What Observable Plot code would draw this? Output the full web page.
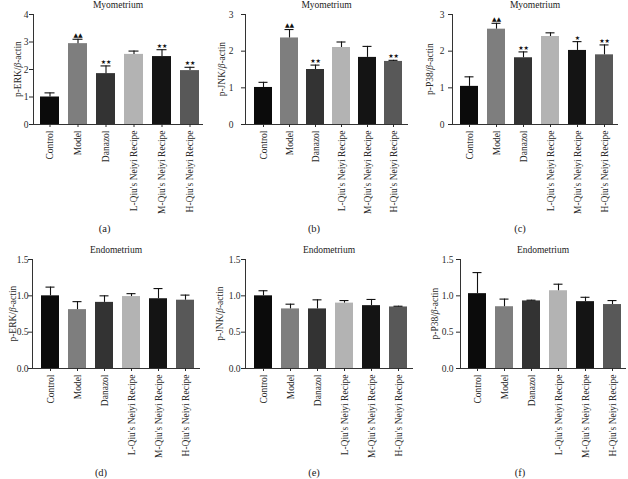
<!DOCTYPE html>
<html>
<head>
<meta charset="utf-8">
<script src="https://cdn.jsdelivr.net/npm/d3@7"></script>
<script src="https://cdn.jsdelivr.net/npm/@observablehq/plot@0.6"></script>
<style>
  html, body { margin: 0; padding: 0; background: #fff; }
  #root { position: relative; width: 628px; height: 479px; overflow: hidden; background: #fff;
          font-family: "Liberation Serif", "DejaVu Serif", serif; color: #222; }
  .panel { position: absolute; }
  .title { position: absolute; font-size: 9.5px; text-align: center; white-space: nowrap; line-height: 10px; }
  .caption { position: absolute; font-size: 10.5px; text-align: center; white-space: nowrap; line-height: 12px; }
</style>
</head>
<body>
<div id="root"></div>
<script>
// ---- data ----
const categories = ["Control", "Model", "Danazol", "L-Qiu's Neiyi Recipe", "M-Qiu's Neiyi Recipe", "H-Qiu's Neiyi Recipe"];
const barColors = ["#0b0b0b", "#7e7e7e", "#333333", "#b3b3b3", "#141414", "#585858"];

const myoErkMean = [1.00, 2.94, 1.85, 2.55, 2.47, 1.96];
const myoErkSem  = [0.15, 0.16, 0.28, 0.12, 0.25, 0.12];
const myoErkSig  = ["", "▲▲", "★★", "", "★★", "★★"];

const myoJnkMean = [1.01, 2.36, 1.50, 2.10, 1.83, 1.72];
const myoJnkSem  = [0.14, 0.23, 0.12, 0.15, 0.30, 0.03];
const myoJnkSig  = ["", "▲▲", "★★", "", "", "★★"];

const myoP38Mean = [1.04, 2.60, 1.82, 2.40, 2.02, 1.90];
const myoP38Sem  = [0.26, 0.16, 0.16, 0.10, 0.24, 0.27];
const myoP38Sig  = ["", "▲▲", "★★", "", "★", "★★"];

const endoErkMean = [1.00, 0.81, 0.91, 0.99, 0.96, 0.94];
const endoErkSem  = [0.12, 0.11, 0.09, 0.04, 0.14, 0.07];

const endoJnkMean = [1.00, 0.82, 0.82, 0.90, 0.865, 0.847];
const endoJnkSem  = [0.07, 0.065, 0.125, 0.035, 0.085, 0.01];

const endoP38Mean = [1.03, 0.85, 0.93, 1.07, 0.92, 0.88];
const endoP38Sem  = [0.29, 0.105, 0.01, 0.09, 0.06, 0.055];
const noSig = ["", "", "", "", "", ""];

const myoTicks = { erk: [0, 1, 2, 3, 4], jnk: [0, 1, 2, 3], p38: [0, 1, 2, 3] };
const endoTicks = [0, 0.5, 1.0, 1.5];

// ---- layout (page pixels) ----
const panels = [
  {id: "a", title: "Myometrium", label: "p-ERK/β-actin", mean: myoErkMean, sem: myoErkSem, sig: myoErkSig,
   ticks: myoTicks.erk, fmt: d3.format("d"), left: 0, top: 0, width: 205, marginLeft: 33, tickPadding: 1, labelOffset: 19.5, capX: 104.7},
  {id: "b", title: "Myometrium", label: "p-JNK/β-actin", mean: myoJnkMean, sem: myoJnkSem, sig: myoJnkSig,
   ticks: myoTicks.jnk, fmt: d3.format("d"), left: 212, top: 0, width: 198, marginLeft: 33, tickPadding: 8, labelOffset: 27.5, capX: 314},
  {id: "c", title: "Myometrium", label: "p-P38/β-actin", mean: myoP38Mean, sem: myoP38Sem, sig: myoP38Sig,
   ticks: myoTicks.p38, fmt: d3.format("d"), left: 419, top: 0, width: 201, marginLeft: 33, tickPadding: 4, labelOffset: 26.5, capX: 520},
  {id: "d", title: "Endometrium", label: "p-ERK/β-actin", mean: endoErkMean, sem: endoErkSem, sig: noSig,
   ticks: endoTicks, fmt: d3.format(".1f"), left: 0, top: 245, width: 202, marginLeft: 32, tickPadding: 0, labelOffset: 23.5, capX: 101},
  {id: "e", title: "Endometrium", label: "p-JNK/β-actin", mean: endoJnkMean, sem: endoJnkSem, sig: noSig,
   ticks: endoTicks, fmt: d3.format(".1f"), left: 212, top: 245, width: 203, marginLeft: 33, tickPadding: 1, labelOffset: 29.5, capX: 314},
  {id: "f", title: "Endometrium", label: "p-P38/β-actin", mean: endoP38Mean, sem: endoP38Sem, sig: noSig,
   ticks: endoTicks, fmt: d3.format(".1f"), left: 427, top: 245, width: 201, marginLeft: 33, tickPadding: 3, labelOffset: 29.5, capX: 520}
];

const root = document.getElementById("root");
const mTop = 14, mBottom = 92, mRight = 2;

for (const p of panels) {
  const rows = categories.map((c, i) => ({cat: c, mean: p.mean[i], top: p.mean[i] + p.sem[i], sig: p.sig[i]}));
  const plotH = p.top === 0 ? 110 : 109;
  const height = mTop + plotH + mBottom;
  const chart = Plot.plot({
    width: p.width,
    height,
    marginLeft: p.marginLeft,
    marginRight: mRight,
    marginTop: mTop,
    marginBottom: mBottom,
    style: {fontFamily: "'Liberation Serif', 'DejaVu Serif', serif", fontSize: "9.5px", background: "transparent", color: "#2a2a2a", overflow: "visible"},
    x: {domain: categories, paddingInner: 0.32, paddingOuter: 0.18, align: 0.6, label: null},
    y: {domain: [0, p.ticks[p.ticks.length - 1]]},
    color: {domain: categories, range: barColors},
    marks: [
      Plot.barY(rows, {x: "cat", y: "mean", fill: "cat"}),
      Plot.ruleX(rows, {x: "cat", y1: "mean", y2: "top", stroke: "#111", strokeWidth: 1.1}),
      Plot.tickY(rows, {x: "cat", y: "top", stroke: "#111", strokeWidth: 1.1, insetLeft: 4.5, insetRight: 4.5}),
      Plot.text(rows, {x: "cat", y: "top", text: "sig", dy: -4, fontSize: 6, fontFamily: "DejaVu Sans", fill: "#111"}),
      Plot.ruleY([0], {stroke: "#333", strokeWidth: 1}),
      Plot.frame({anchor: "left", stroke: "#333", strokeWidth: 1}),
      Plot.axisY({ticks: p.ticks, tickFormat: p.fmt, tickSize: 4, tickPadding: p.tickPadding,
                  label: p.label, labelAnchor: "center", labelArrow: "none", labelOffset: p.labelOffset}),
      Plot.axisX({tickSize: 3, tickRotate: -90, tickPadding: 3, label: null})
    ]
  });
  // italic beta in the y label
  let labelText = null;
  chart.querySelectorAll("text").forEach(t => {
    if (t.textContent === p.label) {
      labelText = t;
      t.innerHTML = p.label.replace("β", '<tspan font-style="italic">β</tspan>');
    }
  });
  const wrap = document.createElement("div");
  wrap.className = "panel";
  wrap.style.left = p.left + "px";
  wrap.style.top = p.top + "px";
  wrap.appendChild(chart);
  root.appendChild(wrap);

  // keep the rotated y label centred on the plot frame
  if (labelText) {
    const svgBox = chart.getBoundingClientRect();
    const b = labelText.getBoundingClientRect();
    const cy = b.top + b.height / 2 - svgBox.top;
    const want = mTop + plotH / 2;
    const g = labelText.parentNode;
    const prev = g.getAttribute("transform") || "";
    g.setAttribute("transform", `translate(0,${(want - cy).toFixed(2)}) ${prev}`);
  }

  // title over the frame
  const frameL = p.left + p.marginLeft, frameR = p.left + p.width - mRight;
  const title = document.createElement("div");
  title.className = "title";
  title.textContent = p.title;
  title.style.left = frameL + "px";
  title.style.width = (frameR - frameL) + "px";
  title.style.top = p.top + "px";
  root.appendChild(title);

  const cap = document.createElement("div");
  cap.className = "caption";
  cap.textContent = "(" + p.id + ")";
  cap.style.left = (p.capX - 20) + "px";
  cap.style.width = "40px";
  cap.style.top = (p.top === 0 ? 223 : 467) + "px";
  root.appendChild(cap);
}
</script>
</body>
</html>
